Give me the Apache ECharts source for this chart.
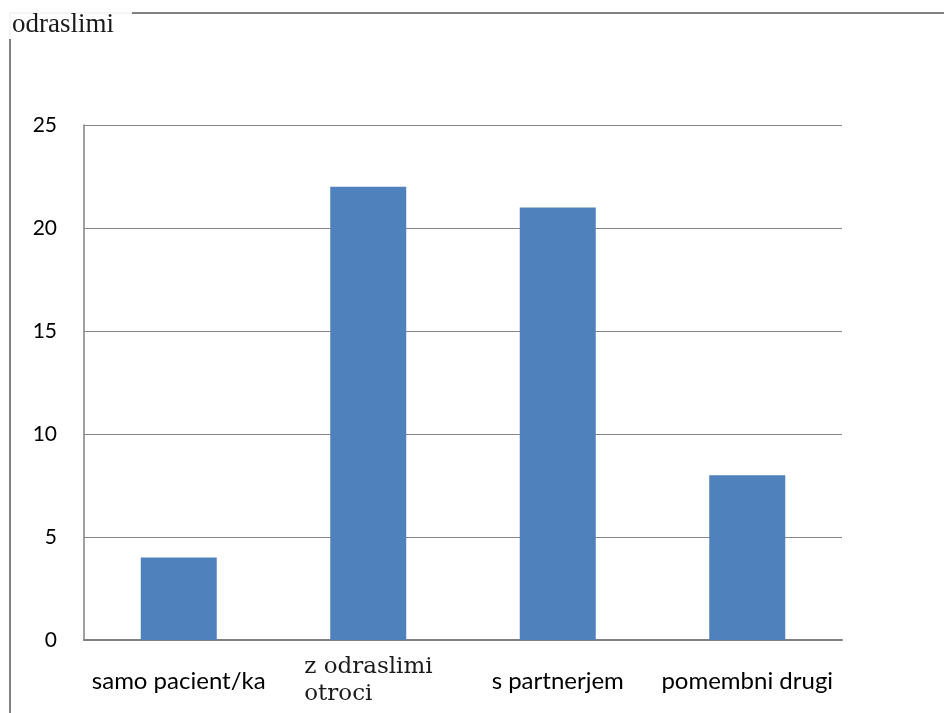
<!DOCTYPE html>
<html><head><meta charset="utf-8">
<script src="https://cdn.jsdelivr.net/npm/echarts@6/dist/echarts.min.js"></script>
<style>html,body{margin:0;padding:0;background:#fff}#c{width:944px;height:713px}</style>
</head><body><div id="c"></div>
<script>
const categories = ['samo pacient/ka', 'z odraslimi otroci', 's partnerjem', 'pomembni drugi'];
const values = [4, 22, 21, 8];
const yTicks = [0, 5, 10, 15, 20, 25];

const chart = echarts.init(document.getElementById('c'));
chart.setOption({
  animation: false,
  backgroundColor: '#fff',
  grid: { left: 84, right: 102, top: 125, bottom: 73 },
  xAxis: {
    type: 'category',
    data: categories,
    axisLine: { show: true, lineStyle: { color: '#808080', width: 2 } },
    axisTick: { show: false },
    axisLabel: {
      margin: 41,
      interval: 0,
      verticalAlign: 'middle',
      color: '#000',
      fontFamily: 'Lato',
      fontSize: 24,
      formatter: function (v) {
        if (v === 'z odraslimi otroci') return '{s|z odraslimi}\n{s|otroci}';
        return v;
      },
      rich: {
        s: { fontFamily: 'DejaVu Serif', fontSize: 23, color: '#1a1a1a', lineHeight: 27, width: 128, align: 'left' }
      }
    }
  },
  yAxis: {
    type: 'value',
    min: yTicks[0],
    max: yTicks[yTicks.length - 1],
    interval: 5,
    axisLine: { show: true, lineStyle: { color: '#808080', width: 1.5 } },
    axisTick: { show: false },
    axisLabel: { margin: 27, color: '#000', fontFamily: 'Lato', fontSize: 21 },
    splitLine: { show: true, lineStyle: { color: '#868686', width: 1 } }
  },
  series: [{
    type: 'bar',
    data: values,
    barWidth: 76,
    itemStyle: { color: '#4f81bd' }
  }],
  graphic: [
    { type: 'line', shape: { x1: 132, y1: 13, x2: 944, y2: 13 }, style: { stroke: '#808080', lineWidth: 2 } },
    { type: 'line', shape: { x1: 10, y1: 39, x2: 10, y2: 713 }, style: { stroke: '#808080', lineWidth: 2 } },
    { type: 'line', shape: { x1: 10, y1: 13, x2: 132, y2: 13 }, style: { stroke: '#ececec', lineWidth: 1 } },
    { type: 'line', shape: { x1: 10, y1: 13, x2: 10, y2: 39 }, style: { stroke: '#ececec', lineWidth: 1 } },
    { type: 'text', left: 12, top: 11, style: { text: 'odraslimi', font: '27px "Liberation Serif"', fill: '#1a1a1a' } }
  ]
});
</script></body></html>
